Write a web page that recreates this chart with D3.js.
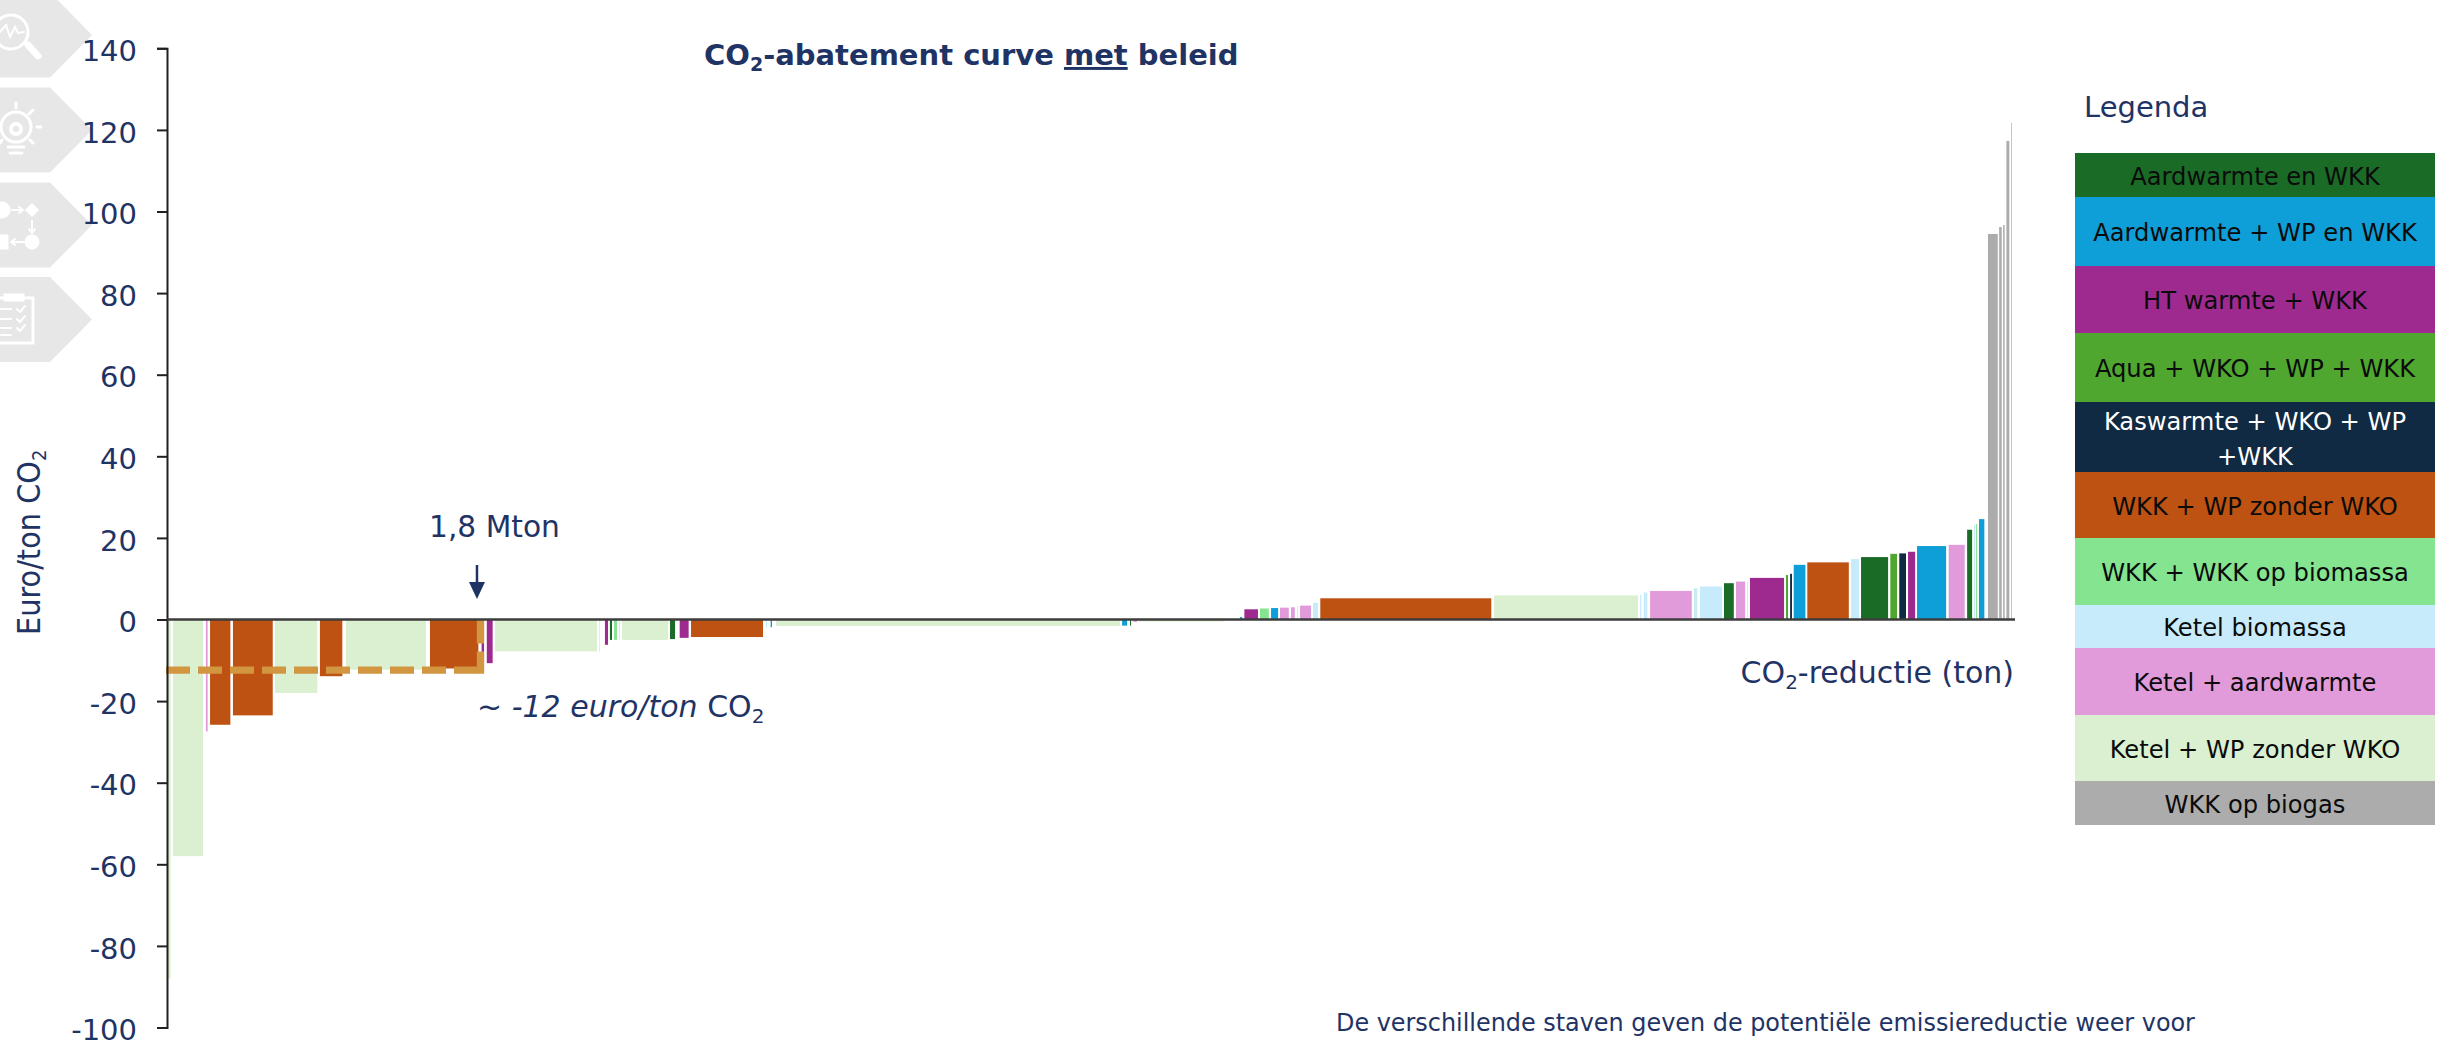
<!DOCTYPE html>
<html>
<head>
<meta charset="utf-8">
<title>CO2-abatement curve met beleid</title>
<script src="https://cdn.jsdelivr.net/npm/d3@7"></script>
<style>
    html, body { margin: 0; padding: 0; background: #fff; }
    svg { display: block; }
    text { font-family: "DejaVu Sans", sans-serif; fill: #1f3464; }
</style>
</head>
<body>
<div id="chart"></div>
<script>
// Legenda, van boven naar beneden
const categories = [
    "Aardwarmte en WKK", "Aardwarmte + WP en WKK", "HT warmte + WKK", "Aqua + WKO + WP + WKK",
    "Kaswarmte + WKO + WP +WKK", "WKK + WP zonder WKO", "WKK + WKK op biomassa", "Ketel biomassa",
    "Ketel + aardwarmte", "Ketel + WP zonder WKO", "WKK op biogas"
];
const categoryColors = ["#1a6b26", "#0f9fd8", "#9f2a8f", "#4fa72f", "#102a43", "#bd5213", "#84e490", "#c8ebfb", "#e29bda", "#daf0d0", "#acacac"];

// Staven: begin en eind op de cumulatieve CO2-reductie (kton), kosten (euro/ton CO2), index in categories
const barStart = [3, 35, 226, 250, 383, 627, 888, 1039, 1527, 1827, 1857, 1905, 2509, 2543, 2572, 2596, 2625, 2642, 2921, 2977, 3043, 3478, 3505, 3536, 5546, 5592, 5612, 5639,
    6231, 6256, 6347, 6411, 6463, 6527, 6562, 6579, 6655, 6697, 7706, 8554, 8575, 8612, 8867, 8902, 9041, 9111, 9175, 9192, 9401, 9425, 9446, 9525, 9779, 9837, 10007, 10059, 10110, 10162, 10346, 10453, 10493, 10505, 10522, 10574, 10639, 10662, 10681, 10708];
const barEnd = [21, 209, 236, 368, 614, 873, 1018, 1504, 1808, 1841, 1891, 2497, 2514, 2561, 2584, 2613, 2631, 2909, 2950, 3029, 3461, 3484, 3513, 5534, 5575, 5598, 5633, 6138,
    6244, 6335, 6398, 6452, 6514, 6549, 6568, 6643, 6684, 7690, 8542, 8561, 8596, 8854, 8886, 9030, 9098, 9164, 9181, 9390, 9413, 9436, 9514, 9766, 9825, 9994, 10046, 10098, 10151, 10331, 10439, 10482, 10499, 10511, 10553, 10631, 10654, 10671, 10698, 10712];
const barCost = [-88, -58, -27.4, -25.8, -23.5, -18, -13.9, -12.3, -12, -12.4, -10.7, -7.8, -7.8, -6.2, -5, -5, -4.9, -5, -4.8, -4.5, -4.3, -1.9, -1.9, -1.6, -1.5, -1.5, -0.6, -0.5,
    0.6, 2.5, 2.7, 2.8, 2.9, 3, 3.3, 3.4, 4.1, 5.2, 5.9, 6.1, 6.6, 7, 7.7, 8.1, 8.9, 9.3, 9.3, 10.2, 10.9, 11.2, 13.4, 14, 14.8, 15.3, 16.1, 16.2, 16.6, 18, 18.3, 22, 23.1, 23.4, 24.6, 94.5, 96.2, 96.7, 117.3, 121.7];
const barCategory = [9, 9, 8, 5, 5, 9, 5, 9, 5, 2, 2, 9, 9, 2, 0, 6, 9, 9, 0, 2, 5, 7, 1, 9, 1, 0, 8, 9,
    1, 2, 6, 1, 8, 8, 7, 8, 7, 5, 9, 7, 7, 8, 7, 7, 0, 8, 7, 2, 3, 4, 1, 5, 7, 0, 3, 4, 2, 1, 8, 0, 7, 6, 1, 10, 10, 10, 10, 10];

const yTicks = [140, 120, 100, 80, 60, 40, 20, 0, -20, -40, -60, -80, -100];
const thresholdReduction = 1800;   // kton
const thresholdCost = -12.4;       // euro/ton CO2

const width = 2453, height = 1042;
const svg = d3.select("#chart").append("svg").attr("width", width).attr("height", height);

const x = d3.scaleLinear().domain([0, 10731]).range([167, 2015]);
const y = d3.scaleLinear().domain([-100, 140]).range([1027.5, 48.3]);

// Tabbladen linksboven met pictogrammen
const tabCenters = [35, 130, 225, 319.5];
svg.selectAll(".tab").data(tabCenters).enter().append("path")
    .attr("class", "tab")
    .attr("d", d => `M0,${d - 42.5}L50,${d - 42.5}L92,${d}L50,${d + 42.5}L0,${d + 42.5}Z`)
    .attr("fill", "#e8e7e8");
const icons = svg.append("g").attr("fill", "none").attr("stroke", "#fff").attr("stroke-width", 3).attr("stroke-linecap", "round");
// vergrootglas
icons.append("circle").attr("cx", 11).attr("cy", 32).attr("r", 17);
icons.append("path").attr("d", "M28,45L38,56").attr("stroke-width", 7);
icons.append("path").attr("d", "M0,32L6,25L10,37L15,27L18,33L24,32").attr("stroke-width", 2);
// lamp
icons.append("circle").attr("cx", 16).attr("cy", 127).attr("r", 15);
icons.append("circle").attr("cx", 16).attr("cy", 129).attr("r", 5).attr("stroke-width", 4);
icons.append("path").attr("d", "M8,147L24,147M10,153L22,153M16,103L16,108M33,110L29,114M41,127L37,127M33,143L30,140M0,143L2,140");
// stroomschema
icons.append("circle").attr("cx", 2).attr("cy", 210).attr("r", 7).attr("fill", "#fff");
icons.append("path").attr("d", "M12,210L22,210M19,207L23,210L19,213M32,221L32,232M29,229L32,233L35,229M24,242L12,242M15,239L11,242L15,245").attr("stroke-width", 2);
icons.append("path").attr("d", "M32,203L39,210L32,217L25,210Z").attr("fill", "#fff").attr("stroke", "none");
icons.append("circle").attr("cx", 32).attr("cy", 242).attr("r", 6).attr("fill", "#fff");
icons.append("rect").attr("x", -2).attr("y", 236).attr("width", 9).attr("height", 12).attr("fill", "#fff");
// klembord
icons.append("path").attr("d", "M0,298L33,298L33,343L0,343");
icons.append("rect").attr("x", 5).attr("y", 295).attr("width", 18).attr("height", 5).attr("fill", "#fff");
icons.append("path").attr("d", "M1,309L11,309M1,319L11,319M1,328L11,328M1,335L11,335").attr("stroke-width", 2);
icons.append("path").attr("d", "M17,309L20,312L25,306M17,319L20,322L25,316M17,328L20,331L25,325").attr("stroke-width", 2);

// Staven
svg.selectAll(".bar")
    .data(barStart)
    .enter()
    .append("rect")
    .attr("class", "bar")
    .attr("x", d => x(d))
    .attr("width", (d, i) => x(barEnd[i]) - x(d))
    .attr("y", (d, i) => y(Math.max(barCost[i], 0)))
    .attr("height", (d, i) => Math.abs(y(barCost[i]) - y(0)))
    .attr("fill", (d, i) => categoryColors[barCategory[i]]);

// Stippellijn -12 euro/ton
svg.append("line")
    .attr("x1", x(0) - 1).attr("x2", x(thresholdReduction) + 1.5)
    .attr("y1", y(thresholdCost)).attr("y2", y(thresholdCost))
    .attr("stroke", "#d29640").attr("stroke-width", 7.3)
    .attr("stroke-dasharray", "24 8");
svg.append("line")
    .attr("x1", x(thresholdReduction) + 3.5).attr("x2", x(thresholdReduction) + 3.5)
    .attr("y1", y(0)).attr("y2", y(thresholdCost) + 3.7)
    .attr("stroke", "#d29640").attr("stroke-width", 7.3)
    .attr("stroke-dasharray", "24 8");

// Assen
const yAxis = svg.append("g")
    .attr("transform", `translate(${x(0)},0)`)
    .call(d3.axisLeft(y).tickValues(yTicks).tickSize(10).tickPadding(20).tickFormat(d => String(d)));
yAxis.selectAll("line, path").attr("stroke", "#231f20").attr("stroke-width", 2);
yAxis.selectAll("text").attr("font-size", 29).attr("font-family", "DejaVu Sans").attr("fill", "#1f3464").attr("dy", "0.42em");

svg.append("line")
    .attr("x1", x(0)).attr("x2", x.range()[1])
    .attr("y1", y(0)).attr("y2", y(0))
    .attr("stroke", "#3c3c3c").attr("stroke-width", 2.4);

// Titel
const title = svg.append("text").attr("x", 704).attr("y", 65).attr("font-size", 29).attr("font-weight", "bold");
title.append("tspan").text("CO");
title.append("tspan").text("2").attr("font-size", 19).attr("dy", 6);
title.append("tspan").text("-abatement curve ").attr("dy", -6);
title.append("tspan").text("met").attr("text-decoration", "underline");
title.append("tspan").text(" beleid");

// Aslabels
const yLabel = svg.append("text")
    .attr("transform", "translate(40,635) rotate(-90)")
    .attr("font-size", 32)
    .style("font-family", "'DejaVu Sans Condensed', 'DejaVu Sans', sans-serif");
yLabel.append("tspan").text("Euro/ton CO");
yLabel.append("tspan").text("2").attr("font-size", 20).attr("dy", 6);

const xLabel = svg.append("text").attr("x", 2014).attr("y", 683).attr("text-anchor", "end").attr("font-size", 30);
xLabel.append("tspan").text("CO");
xLabel.append("tspan").text("2").attr("font-size", 20).attr("dy", 6);
xLabel.append("tspan").text("-reductie (ton)").attr("dy", -6);

// Annotaties
svg.append("text").attr("x", 429).attr("y", 537).attr("font-size", 29.7).text("1,8 Mton");
svg.append("path")
    .attr("d", `M${x(thresholdReduction)},565V592`)
    .attr("stroke", "#1f3464").attr("stroke-width", 2.5).attr("fill", "none");
svg.append("path")
    .attr("d", `M${x(thresholdReduction) - 8},582H${x(thresholdReduction) + 8}L${x(thresholdReduction)},599Z`)
    .attr("fill", "#1f3464");

const note = svg.append("text").attr("x", 477).attr("y", 717).attr("font-size", 30);
note.append("tspan").text("~ -12 euro/ton ").attr("font-style", "italic");
note.append("tspan").text("CO");
note.append("tspan").text("2").attr("font-size", 20).attr("dy", 6);

svg.append("text").attr("x", 1336).attr("y", 1031).attr("font-size", 23.9)
    .text("De verschillende staven geven de potentiële emissiereductie weer voor");

// Legenda
svg.append("text").attr("x", 2084).attr("y", 117).attr("font-size", 29).text("Legenda");
const legendEdges = [153, 197, 266, 333, 402, 472, 538, 605, 648, 715, 781, 825];
const legendRows = svg.selectAll(".legendRow").data(categories).enter().append("g").attr("class", "legendRow");
legendRows.append("rect")
    .attr("x", 2075).attr("width", 360)
    .attr("y", (d, i) => legendEdges[i])
    .attr("height", (d, i) => legendEdges[i + 1] - legendEdges[i])
    .attr("fill", (d, i) => categoryColors[i]);
legendRows.each(function(d, i) {
    const mid = (legendEdges[i] + legendEdges[i + 1]) / 2 + 9.5;
    const lines = d === "Kaswarmte + WKO + WP +WKK" ? ["Kaswarmte + WKO + WP", "+WKK"] : [d];
    lines.forEach((line, k) => {
        d3.select(this).append("text")
            .attr("x", 2255)
            .attr("y", lines.length > 1 ? mid - 16.5 + k * 34.5 : mid)
            .attr("text-anchor", "middle")
            .attr("font-size", 24.2)
            .style("fill", i === 4 ? "#fff" : "#0b0b0b")
            .text(line);
    });
});
</script>
</body>
</html>
